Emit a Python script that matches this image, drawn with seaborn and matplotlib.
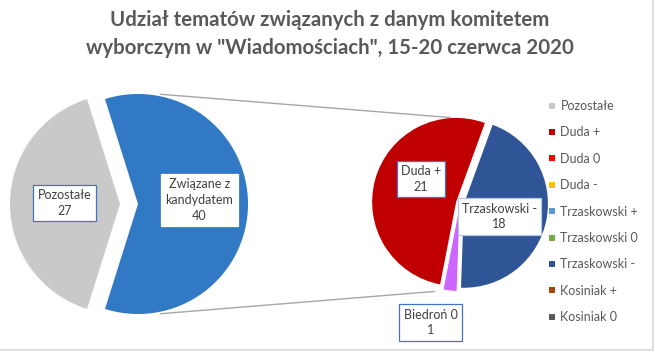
import numpy as np
import matplotlib
matplotlib.use("Agg")
import matplotlib.pyplot as plt
import seaborn as sns
from matplotlib.lines import Line2D

# ---------------- data ----------------
title_lines = ["Udział tematów związanych z danym komitetem",
               "wyborczym w \"Wiadomościach\", 15-20 czerwca 2020"]
main_labels = ["Pozostałe", "Związane z\nkandydatem"]
main_values = [27, 40]
sub_labels = ["Duda +", "Biedroń 0", "Trzaskowski -"]
sub_values = [21, 1, 18]
legend_labels = ["Pozostałe", "Duda +", "Duda 0", "Duda -", "Trzaskowski +",
                 "Trzaskowski 0", "Trzaskowski -", "Kosiniak +", "Kosiniak 0"]

# ---------------- style ----------------
sns.set_theme(style="white")
plt.rcParams['font.family'] = ['Lato', 'DejaVu Sans']

main_colors = ["#C9C9C9", "#3179C4"]
sub_colors = ["#C00000", "#CC66FF", "#2F5597"]
legend_colors = ["#C9C9C9", "#C00000", "#FF0000", "#FFC000", "#5B9BD5",
                 "#70AD47", "#2F5597", "#9E480E", "#595959"]
txt_col = "#595959"

W, H = 655, 353
fig = plt.figure(figsize=(W / 100, H / 100), dpi=100)
ax = fig.add_axes([0, 0, 1, 1])

def Y(y):
    return H - y

# chart border (right & bottom visible)
ax.plot([653, 653], [Y(0), Y(350)], color="#D9D9D9", lw=1.2)
ax.plot([0, 653], [Y(350), Y(350)], color="#D9D9D9", lw=1.2)

# ---------------- left pie ----------------
lc = (138, Y(204))
lr = 110
gray_span = main_values[0] / sum(main_values) * 360
ax.pie(main_values, colors=main_colors, startangle=180 - gray_span / 2,
       counterclock=True, radius=lr, center=lc, explode=[18, 0],
       wedgeprops=dict(linewidth=0), frame=True)

# ---------------- right pie ----------------
rc = (460, Y(203))
rr = 84
ax.pie(sub_values, colors=sub_colors, startangle=70, counterclock=True,
       radius=rr, center=rc, explode=[4, 4, 4],
       wedgeprops=dict(linewidth=0), frame=True)
ax.set_xlim(0, W)
ax.set_ylim(0, H)
ax.set_aspect('equal')
ax.axis('off')

# connector lines
def pt(c, r, a):
    return c[0] + r * np.cos(np.radians(a)), c[1] + r * np.sin(np.radians(a))

for la, ra, rrr in [(78.5, 96.5, 86), (-78.5, 254, 92)]:
    p1 = pt(lc, lr + 2, la)
    p2 = pt(rc, rrr, ra)
    ax.plot([p1[0], p2[0]], [p1[1], p2[1]], color="#A6A6A6", lw=1.0, zorder=0)

# ---------------- data labels ----------------
lab_fs = 9
def label(x, y, text, edge):
    ax.text(x, Y(y), text, ha='center', va='center', fontsize=lab_fs,
            color="#404040", linespacing=1.35, zorder=5,
            bbox=dict(boxstyle='square,pad=0.35', fc='white', ec=edge, lw=0.9))

label(64.5, 203, f"{main_labels[0]}\n{main_values[0]}", "#4472C4")
label(199.5, 200, f"{main_labels[1]}\n{main_values[1]}", "white")
label(421, 179, f"{sub_labels[0]}\n{sub_values[0]}", "#4472C4")
label(499.5, 216.5, f"{sub_labels[2]}\n{sub_values[2]}", "#B4C7E7")
label(430.5, 322.5, f"{sub_labels[1]}\n{sub_values[1]}", "#4472C4")

# ---------------- title ----------------
for i, line in enumerate(title_lines):
    ax.text(W / 2 + 2, Y(20 + 28 * i), line, ha='center', va='center',
            fontsize=14.7, fontweight='bold', color=txt_col)

# ---------------- legend ----------------
handles = [Line2D([], [], marker='s', ls='', markersize=4.5,
                  markerfacecolor=c, markeredgewidth=0) for c in legend_colors]
leg = ax.legend(handles, legend_labels, loc='upper left',
                bbox_to_anchor=(548 / W, 1 - 100 / H), frameon=False,
                fontsize=9, labelcolor=txt_col, handlelength=0.6,
                handletextpad=0.4, labelspacing=1.15, borderaxespad=0,
                borderpad=0)

fig.savefig("out.png", dpi=100)
